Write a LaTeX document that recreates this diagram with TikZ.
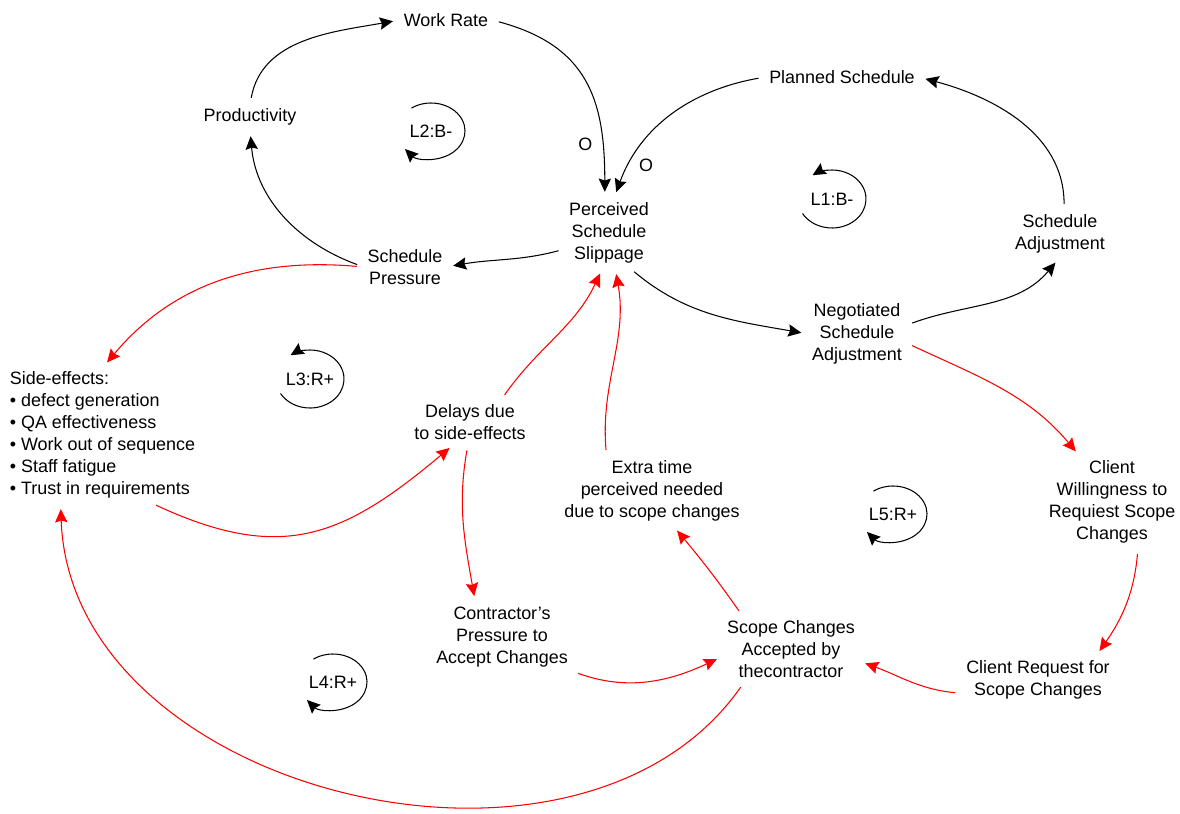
\documentclass[tikz,border=0pt]{standalone}
\usepackage{fontspec}
\setmainfont{Liberation Sans}
\usepackage{tikz}
\usetikzlibrary{arrows.meta}
\tikzset{
  var_/.style     = {align=center, inner sep=2pt},
  link_/.style    = {draw, line width=0.6pt, shorten <=4pt, shorten >=4pt,
                     -{Stealth[length=7.5pt,width=7pt,inset=1pt]}},
  redlink_/.style = {link_, red},
  loop_/.style    = {draw, line width=0.6pt, -{Stealth[length=7.5pt,width=7pt,inset=1pt]}}
}

\begin{document}
\begin{tikzpicture}
	[
	x = 0.02cm,
	y = 0.02cm,
	every node/.style = {font=\fontsize{10.2}{12.5}\selectfont}
	]
	\useasboundingbox (0,0) rectangle (1180,-814);
	% variables
	\node [var_] (workrate)     at (446,-20)  {Work Rate};
	\node [var_] (productivity) at (250,-117) {Productivity};
	\node [var_] (pss)          at (609,-233) {Perceived\\Schedule\\Slippage};
	\node [var_] (schedpress)   at (405,-267) {Schedule\\Pressure};
	\node [var_] (planned)      at (842,-77)  {Planned Schedule};
	\node [var_] (schedadj)     at (1060,-234) {Schedule\\Adjustment};
	\node [var_] (negadj)       at (857,-334) {Negotiated\\Schedule\\Adjustment};
	\node [var_, align=left, anchor=west] (sideeff) at (6,-435)
		{Side-effects:\\• defect generation\\• QA effectiveness\\• Work out of sequence\\• Staff fatigue\\• Trust in requirements};
	\node [var_] (delays)       at (470,-422) {Delays due\\to side-effects};
	\node [var_] (extratime)    at (652,-491) {Extra time\\perceived needed\\due to scope changes};
	\node [var_] (clientwill)   at (1112,-502) {Client\\Willingness to\\Requiest Scope\\Changes};
	\node [var_] (contrpress)   at (502,-637) {Contractor's\\Pressure to\\Accept Changes};
	\node [var_] (scopeacc)     at (791,-649) {Scope Changes\\Accepted by\\thecontractor};
	\node [var_] (clientreq)    at (1038,-680) {Client Request for\\Scope Changes};
	% loop labels
	\node (l1) at (832,-199) {L1:B-};
	\node (l2) at (431,-131) {L2:B-};
	\node (l3) at (310,-379) {L3:R+};
	\node (l4) at (333,-682) {L4:R+};
	\node (l5) at (893,-514) {L5:R+};
	\draw [loop_] (l1) ++(-150:34 and 29) arc [start angle=-150, end angle=125, x radius=34, y radius=29];
	\draw [loop_] (l2) ++(125:34 and 28) arc [start angle=125, end angle=-140, x radius=34, y radius=28];
	\draw [loop_] (l3) ++(-150:34 and 29) arc [start angle=-150, end angle=125, x radius=34, y radius=29];
	\draw [loop_] (l4) ++(125:34 and 28) arc [start angle=125, end angle=-140, x radius=34, y radius=28];
	\draw [loop_] (l5) ++(125:34 and 28) arc [start angle=125, end angle=-140, x radius=34, y radius=28];
	% black links
	\draw [link_] (productivity.north) to [out=80, in=190] (workrate.west);
	\draw [link_] (workrate.east) to [out=-15, in=90, looseness=1.2]
		node [pos=0.8, left=2pt] {O} (pss.97);
	\draw [link_] (planned.west) to [out=190, in=70]
		node [pos=0.83, right=2pt] {O} (pss.82);
	\draw [link_] (pss.200) to [out=195, in=10] (schedpress.east);
	\draw [link_] (schedpress.west) to [out=160, in=-85] (productivity.south);
	\draw [link_] (pss.-60) to [out=-40, in=170] (negadj.west);
	\draw [link_] (negadj.10) to [out=20, in=-130] (schedadj.south);
	\draw [link_] (schedadj.80) to [out=90, in=-15] (planned.east);
	% red links
	\draw [redlink_] (schedpress.west) to [out=175, in=50] (sideeff.north);
	\draw [redlink_] (sideeff.-55) to [out=-25, in=-140, looseness=1.2] (delays.235);
	\draw [redlink_] (delays.35) to [out=55, in=-115] (pss.-100);
	\draw [redlink_] (extratime.143) to [out=95, in=-80] (pss.-80);
	\draw [redlink_] (delays.-95) to [out=-100, in=100] (contrpress.128);
	\draw [redlink_] (contrpress.south east) to [out=-20, in=-155] (scopeacc.186);
	\draw [redlink_] (scopeacc.146) to [out=125, in=-50] (extratime.-59);
	\draw [redlink_] (clientreq.190) to [out=175, in=-20] (scopeacc.-10);
	\draw [redlink_] (clientwill.-60) to [out=-95, in=55] (clientreq.22);
	\draw [redlink_] (negadj.-10) to [out=-25, in=130] (clientwill.125);
	\draw [redlink_] (scopeacc.215) to [out=-125, in=-88, looseness=1.05] (sideeff.238);
\end{tikzpicture}
\end{document}
